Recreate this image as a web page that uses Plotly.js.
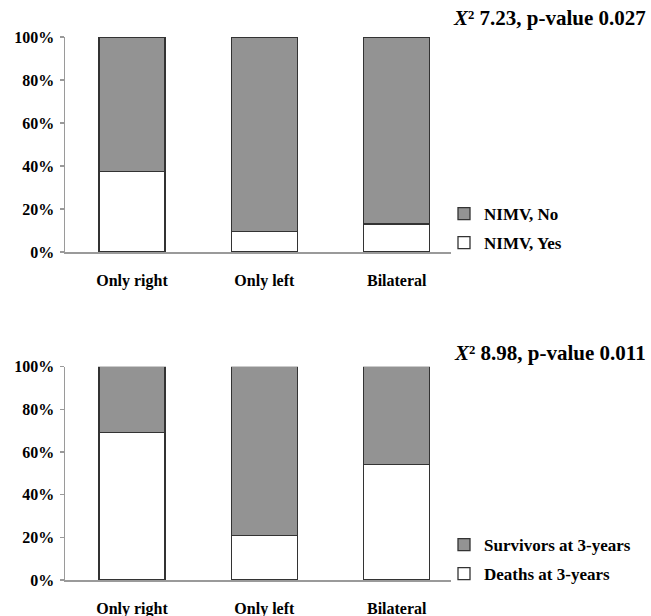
<!DOCTYPE html>
<html>
<head>
<meta charset="utf-8">
<script src="https://cdn.plot.ly/plotly-3.0.1.min.js"></script>
<style>html,body{margin:0;padding:0;background:#fff;}#chart{width:651px;height:616px;}</style>
</head>
<body>
<div id="chart"></div>
<script>
const categories = ["Only right", "Only left", "Bilateral"];
const nimvYes = [37.5, 9.5, 13];
const nimvNo = [62.5, 90.5, 87];
const deaths = [69, 21, 54];
const survivors = [31, 79, 46];
const yTicks = [0, 20, 40, 60, 80, 100];
const yTickText = ["0%", "20%", "40%", "60%", "80%", "100%"];
const title1 = "<i>X</i>² 7.23, p-value 0.027";
const title2 = "<i>X</i>² 8.98, p-value 0.011";

const W = 651, H = 616;
const FONT = "Liberation Serif, Times New Roman, serif";
const grey = "#939393";
const edge = {color: "#333333", width: 1.3};

function bar(y, name, color, xa, ya, legend, grp, rank) {
  return {type: "bar", x: categories, y: y, name: name, xaxis: xa, yaxis: ya, legend: legend,
          legendgroup: grp, legendrank: rank, width: 0.5, marker: {color: color, line: edge}, hoverinfo: "skip"};
}

const traces = [
  bar(nimvYes, "NIMV, Yes", "#ffffff", "x", "y", "legend", "a", 2),
  bar(nimvNo, "NIMV, No", grey, "x", "y", "legend", "b", 1),
  bar(deaths, "Deaths at 3-years", "#ffffff", "x2", "y2", "legend2", "c", 2),
  bar(survivors, "Survivors at 3-years", grey, "x2", "y2", "legend2", "d", 1)
];

const xAx = (anchor) => ({
  domain: [65 / W, 451 / W], range: [-0.506, 2.41], anchor: anchor,
  showline: true, linecolor: "#9a9a9a", linewidth: 1.5, showgrid: false, zeroline: false,
  ticks: "", tickfont: {family: FONT, size: 16, color: "#000", weight: "bold"},
  ticklabelstandoff: 13, fixedrange: true
});
const yAx = (anchor, top, bottom) => ({
  domain: [1 - bottom / H, 1 - top / H], range: [0, 100], anchor: anchor,
  tickmode: "array", tickvals: yTicks, ticktext: yTickText, showline: true, linecolor: "#9a9a9a", linewidth: 1.5,
  ticks: "outside", ticklen: 4, tickcolor: "#9a9a9a", tickwidth: 1.3,
  showgrid: false, zeroline: false, ticklabelstandoff: 2,
  tickfont: {family: FONT, size: 16, color: "#000", weight: "bold"}, fixedrange: true
});

const legFont = {family: FONT, size: 17, color: "#000", weight: "bold"};
const layout = {
  width: W, height: H, margin: {l: 0, r: 0, t: 0, b: 0},
  paper_bgcolor: "#fff", plot_bgcolor: "rgba(0,0,0,0)",
  barmode: "stack", showlegend: true,
  font: {family: FONT, color: "#000"},
  xaxis: xAx("y"), yaxis: yAx("x", 37, 252),
  xaxis2: xAx("y2"), yaxis2: yAx("x2", 366.7, 580),
  legend: {x: 444 / W, y: 1 - 196 / H, xanchor: "left", yanchor: "top", traceorder: "grouped",
           font: legFont, bgcolor: "rgba(0,0,0,0)", itemwidth: 30, tracegroupgap: 4},
  legend2: {x: 444 / W, y: 1 - 527 / H, xanchor: "left", yanchor: "top", traceorder: "grouped",
            font: legFont, bgcolor: "rgba(0,0,0,0)", itemwidth: 30, tracegroupgap: 4},
  annotations: [
    {text: title1, xref: "paper", yref: "paper", x: 648 / W, y: 1 - 18 / H, xanchor: "right", yanchor: "middle",
     showarrow: false, font: {family: FONT, size: 21, color: "#000", weight: "bold"}},
    {text: title2, xref: "paper", yref: "paper", x: 648 / W, y: 1 - 353 / H, xanchor: "right", yanchor: "middle",
     showarrow: false, font: {family: FONT, size: 21, color: "#000", weight: "bold"}}
  ]
};

Plotly.newPlot("chart", traces, layout, {displayModeBar: false, staticPlot: true});
</script>
</body>
</html>
